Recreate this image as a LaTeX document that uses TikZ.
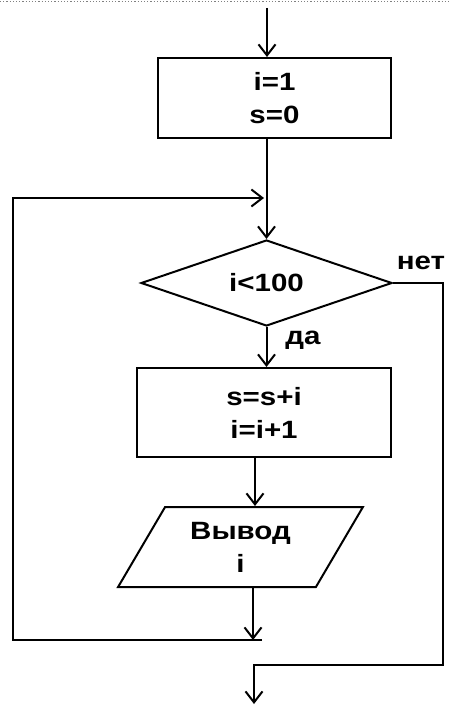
\documentclass[tikz,border=0pt]{standalone}
\usepackage{fontspec}
\newfontfamily\chartfont{Liberation Sans}[FakeStretch=1.18]
\usetikzlibrary{shapes.geometric,arrows.meta}
\tikzset{
  chart/.style={font=\chartfont\bfseries\fontsize{25}{33}\selectfont},
  block/.style={chart, draw, inner sep=0pt, align=center},
  decision/.style={chart, draw, shape=diamond, aspect=3, inner sep=0pt, minimum width=251pt, minimum height=86pt},
  io/.style={chart, draw, shape=trapezium, trapezium left angle=58, trapezium right angle=122, trapezium stretches=true, inner sep=0pt, align=center, minimum width=245pt, minimum height=80pt},
  lbl/.style={chart, inner sep=0pt},
  arrow/.style={-{Straight Barb[length=11pt,width=17pt]}}
}
\begin{document}
\begin{tikzpicture}[x=1pt,y=1pt,yscale=-1,line width=2pt]
\useasboundingbox (0,0) rectangle (449,708);

%Top edge
\draw [gray, dotted, line width=1.2pt] (0,1.5) -- (449,1.5);

%Blocks
\coordinate (start) at (267,8);
\node [block, minimum width=233pt, minimum height=80pt] (init) at (274.5,98) {i=1\\s=0};
\node [decision] (cond) at (266.5,283) {i<100};
\node [block, minimum width=254pt, minimum height=89pt] (body) at (264,412.5) {s=s+i\\i=i+1};
\node [io] (out) at (240.5,547) {Вывод\\i};
\coordinate (back) at (262,640);
\coordinate (join) at (264,198);
\coordinate (exit) at (254,704);

%Connectors
\draw [arrow] (start) -- (start |- init.north);
\draw [arrow] (init.south -| cond.north) -- (cond.north);
\draw [arrow] (cond.south) -- (cond.south |- body.north);
\draw [arrow] ([xshift=-9pt]body.south) -- ([xshift=-9pt]body.south |- out.north);
\draw [arrow] ([xshift=12.5pt]out.south) -- ([xshift=12.5pt]out.south |- back);
\draw [arrow] (back) -- (13,640) |- (join);
\draw [arrow] (cond.east) -| (443,665) -| (exit);

%Labels
\node [lbl] (no) at (421,263) {нет};
\node [lbl] (yes) at (303,340) {да};

\end{tikzpicture}
\end{document}
